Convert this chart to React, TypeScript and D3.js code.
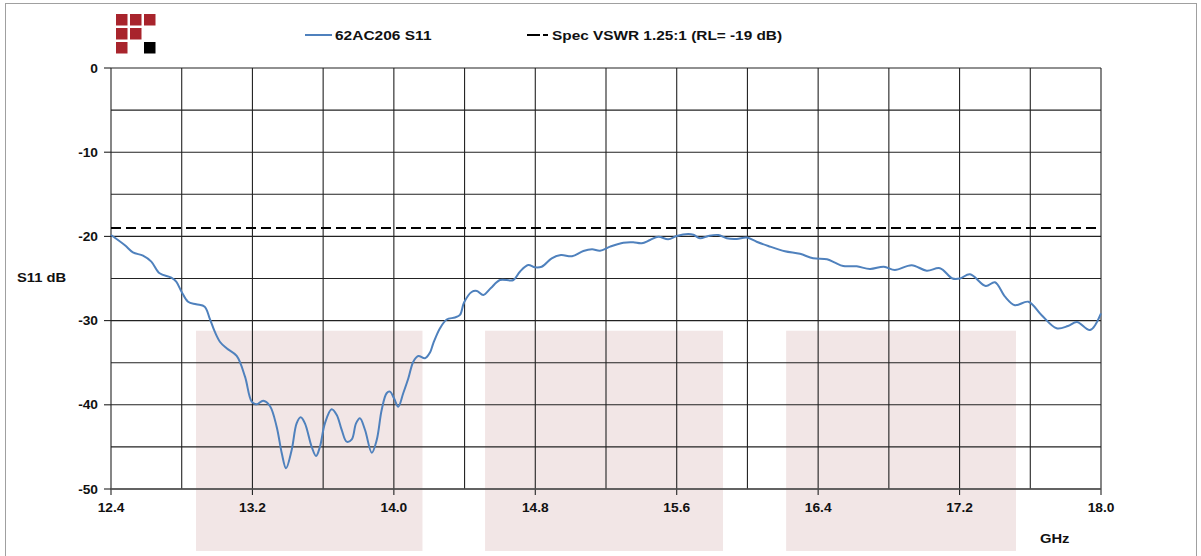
import React from "react";
import * as d3 from "d3";

// Frequency (GHz) and measured S11 (dB) of 62AC206
const freqGHz = [
  12.400, 12.477, 12.524, 12.581, 12.628, 12.675, 12.741, 12.769, 12.799, 12.836,
  12.882, 12.930, 12.958, 12.987, 13.017, 13.054, 13.111, 13.158, 13.196, 13.224,
  13.261, 13.299, 13.337, 13.366, 13.390, 13.422, 13.450, 13.473, 13.497, 13.535,
  13.560, 13.582, 13.610, 13.648, 13.677, 13.705, 13.733, 13.762, 13.786, 13.808,
  13.837, 13.875, 13.903, 13.931, 13.959, 13.978, 14.001, 14.025, 14.053, 14.082,
  14.110, 14.138, 14.176, 14.204, 14.223, 14.261, 14.299, 14.346, 14.374, 14.397,
  14.440, 14.470, 14.506, 14.549, 14.600, 14.676, 14.713, 14.760, 14.798, 14.836,
  14.893, 14.945, 15.008, 15.072, 15.121, 15.166, 15.223, 15.298, 15.354, 15.402,
  15.449, 15.496, 15.552, 15.600, 15.665, 15.694, 15.732, 15.779, 15.835, 15.883,
  15.939, 15.996, 16.052, 16.118, 16.212, 16.297, 16.372, 16.450, 16.495, 16.542,
  16.618, 16.693, 16.772, 16.834, 16.929, 17.014, 17.089, 17.160, 17.202, 17.259,
  17.348, 17.400, 17.457, 17.513, 17.589, 17.663, 17.749, 17.813, 17.864, 17.938,
  18.000,
];
const s11dB = [
  -19.83, -21.02, -21.89, -22.29, -23.00, -24.38, -24.90, -25.38, -26.57, -27.76,
  -28.06, -28.35, -29.73, -31.32, -32.54, -33.29, -34.20, -36.66, -39.63, -39.94,
  -39.51, -40.14, -42.60, -45.76, -47.54, -45.37, -42.20, -41.48, -42.20, -44.98,
  -46.08, -44.98, -42.20, -40.53, -41.21, -42.99, -44.38, -44.10, -42.20, -41.60,
  -42.99, -45.69, -44.18, -40.62, -38.63, -38.44, -39.23, -40.23, -38.63, -36.85,
  -34.88, -34.20, -34.48, -33.81, -32.70, -30.91, -29.87, -29.63, -29.33, -27.85,
  -26.60, -26.48, -26.96, -26.13, -25.18, -25.18, -24.19, -23.40, -23.67, -23.60,
  -22.60, -22.21, -22.36, -21.73, -21.53, -21.70, -21.22, -20.75, -20.70, -20.82,
  -20.43, -20.04, -20.34, -19.95, -19.71, -19.80, -20.23, -19.95, -19.83, -20.23,
  -20.31, -20.13, -20.63, -21.14, -21.77, -22.07, -22.60, -22.72, -23.12, -23.52,
  -23.55, -23.87, -23.60, -23.99, -23.42, -24.07, -23.78, -25.00, -25.00, -24.50,
  -25.89, -25.45, -27.16, -28.17, -27.76, -29.33, -30.91, -30.64, -30.17, -31.12,
  -29.13,
];

const specLevelDB = -19;
const bandStartGHz = [12.881, 14.516, 16.219];
const bandEndGHz = [14.162, 15.862, 17.519];
const bandTopDB = -31.2;

const xTickLabels = ["12.4", "13.2", "14.0", "14.8", "15.6", "16.4", "17.2", "18.0"];
const yTickLabels = ["0", "-10", "-20", "-30", "-40", "-50"];
const xGridGHz = [12.4, 12.8, 13.2, 13.6, 14.0, 14.4, 14.8, 15.2, 15.6, 16.0, 16.4, 16.8, 17.2, 17.6, 18.0];
const yGridDB = [0, -5, -10, -15, -20, -25, -30, -35, -40, -45, -50];

const seriesName = "62AC206 S11";
const specName = "Spec VSWR 1.25:1 (RL= -19 dB)";
const yTitle = "S11 dB";
const xTitle = "GHz";

const FONT = "'Liberation Sans', Arial, sans-serif";

export default function App() {
  const W = 1201, H = 556;
  const x = d3.scaleLinear().domain([12.4, 18.0]).range([111, 1101]);
  const y = d3.scaleLinear().domain([0, -50]).range([68, 489]);

  const pts: [number, number][] = freqGHz.map((f, i) => [f, s11dB[i]]);
  const line = d3
    .line<[number, number]>()
    .x((d) => x(d[0]))
    .y((d) => y(d[1]))
    .curve(d3.curveCatmullRom.alpha(0.5));

  const txt = (s: string, tx: number, ty: number, anchor: string, key?: string, sx = 1.1) => (
    <g key={key} transform={`translate(${tx},${ty}) scale(${sx},1)`}>
      <text
        x={0}
        y={0}
        textAnchor={anchor as any}
        fontFamily={FONT}
        fontWeight="bold"
        fontSize={12.5}
        fill="#111"
      >
        {s}
      </text>
    </g>
  );

  const logoCells = [
    [0, 0, "#a8242c"], [1, 0, "#a8242c"], [2, 0, "#a8242c"],
    [0, 1, "#a8242c"], [1, 1, "#a8242c"],
    [0, 2, "#a8242c"], [2, 2, "#000000"],
  ] as [number, number, string][];

  return (
    <svg
      width={W}
      height={H}
      style={{ position: "absolute", left: 0, top: 0, background: "#fff" }}
    >
      <rect x={0} y={0} width={W} height={H} fill="#fff" />
      <rect x={5.5} y={3.5} width={1191} height={560} fill="none" stroke="#a0a0a0" strokeWidth={1} />

      {/* logo */}
      {logoCells.map(([c, r, col], i) => (
        <rect key={"lg" + i} x={116 + c * 14} y={14 + r * 14} width={11.5} height={11.5} fill={col} />
      ))}

      {/* shaded bands */}
      {bandStartGHz.map((b, i) => (
        <rect
          key={"band" + i}
          x={x(b)}
          y={y(bandTopDB)}
          width={x(bandEndGHz[i]) - x(b)}
          height={551 - y(bandTopDB)}
          fill="#f2e6e6"
        />
      ))}

      {/* grid */}
      {yGridDB.map((v) => (
        <line key={"hy" + v} x1={111} x2={1101} y1={y(v)} y2={y(v)} stroke="#222" strokeWidth={1.1} />
      ))}
      {xGridGHz.map((v) => (
        <line key={"vx" + v} x1={x(v)} x2={x(v)} y1={68} y2={489} stroke="#222" strokeWidth={1.1} />
      ))}
      {/* axis ticks */}
      {yTickLabels.map((l) => (
        <line key={"yt" + l} x1={104} x2={111} y1={y(+l)} y2={y(+l)} stroke="#222" strokeWidth={1.1} />
      ))}
      {xTickLabels.map((l) => (
        <line key={"xt" + l} x1={x(+l)} x2={x(+l)} y1={489} y2={495} stroke="#222" strokeWidth={1.1} />
      ))}
      <line x1={111} x2={1101} y1={489} y2={489} stroke="#555" strokeWidth={1.5} />

      {/* spec line */}
      <line
        x1={x(12.4)}
        x2={x(18.0)}
        y1={y(specLevelDB)}
        y2={y(specLevelDB)}
        stroke="#000"
        strokeWidth={2}
        strokeDasharray="10,5"
      />

      {/* data */}
      <path d={line(pts) || ""} fill="none" stroke="#4f81bd" strokeWidth={2} strokeLinejoin="round" />

      {/* tick labels */}
      {yTickLabels.map((l) => txt(l, 98, y(+l) + 4.5, "end", "yl" + l))}
      {xTickLabels.map((l) => txt(l, x(+l), 512, "middle", "xl" + l))}
      {txt(yTitle, 17, 282, "start", "yt", 1.18)}
      {txt(xTitle, 1040, 543, "start", "xtt", 1.18)}

      {/* legend */}
      <line x1={305} x2={332} y1={35} y2={35} stroke="#4f81bd" strokeWidth={2} />
      {txt(seriesName, 335, 40, "start", "lg1", 1.24)}
      <line x1={527} x2={548} y1={35} y2={35} stroke="#000" strokeWidth={2} strokeDasharray="13,3" />
      {txt(specName, 552, 40, "start", "lg2", 1.23)}
    </svg>
  );
}
